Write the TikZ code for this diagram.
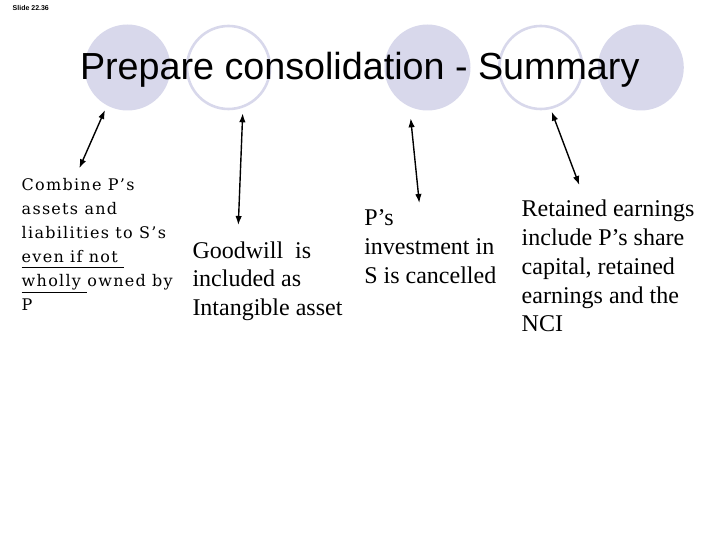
\documentclass[tikz,border=0pt]{standalone}
\usepackage{fontspec}
\setmainfont{Liberation Serif}
\newfontfamily\titlefont{Liberation Sans}
\newfontfamily\notefont[LetterSpace=8]{DejaVu Serif}
\usetikzlibrary{arrows.meta}
\definecolor{lilac}{RGB}{216,216,235}
\newcommand{\ulbar}[2]{\setbox0\hbox{#2}\rlap{\rule[#1]{\wd0}{0.8pt}}\box0\relax}
\begin{document}
\begin{tikzpicture}[x=1pt,y=-1pt,
    every node/.style={inner sep=0pt,outer sep=0pt},
    bubble/.style={circle,minimum size=86pt},
    bigtext/.style={anchor=north west,align=left,font=\fontsize{24}{28.7}\selectfont},
    link/.style={{Latex[length=9pt,width=6.5pt]}-{Latex[length=9pt,width=6.5pt]},line width=1.4pt}]
  \useasboundingbox (0,0) rectangle (720,540);
  % circles behind the title
  \node[bubble,fill=lilac] (c1) at (127.5,67.5) {};
  \node[bubble,draw=lilac,line width=2.6pt,minimum size=83pt] (c2) at (228.5,67.5) {};
  \node[bubble,fill=lilac] (c3) at (427.5,67.5) {};
  \node[bubble,draw=lilac,line width=2.6pt,minimum size=83pt] (c4) at (540.8,67.5) {};
  \node[bubble,fill=lilac] (c5) at (640.8,67.5) {};
  \node[anchor=base west,font=\fontsize{7}{8}\titlefont\bfseries] (slide) at (12.7,10.5) {Slide 22.36};
  \node[anchor=base west,font=\fontsize{37.7}{40}\titlefont] (title) at (80,80) {Prepare consolidation - Summary};
  % texts
  \node[anchor=north west,align=left,font=\fontsize{16}{24}\notefont] (combine) at (21.7,178.6)
    {Combine P’s\\assets and\\liabilities to S’s\\\ulbar{-5pt}{even if not\ }\\\ulbar{-6.5pt}{wholly\ }owned by\\P};
  \node[bigtext] (goodwill) at (192.5,241.6) {Goodwill\ \ is\\included as\\Intangible asset};
  \node[bigtext] (invest) at (364.3,209.8) {P’s\\investment in\\S is cancelled};
  \node[bigtext] (retained) at (521.7,200.3) {Retained earnings\\include P’s share\\capital, retained\\earnings and the\\NCI};
  % arrows
  \coordinate (t1) at (105,110);     \coordinate (b1) at (79.3,168.3);
  \coordinate (t2) at (242.7,113.3); \coordinate (b2) at (238.3,225);
  \coordinate (t3) at (410.7,118.3); \coordinate (b3) at (419.3,203);
  \coordinate (t4) at (551.7,111.7); \coordinate (b4) at (579.3,185);
  \draw[link] (t1) -- (b1);
  \draw[link] (t2) -- (b2);
  \draw[link] (t3) -- (b3);
  \draw[link] (t4) -- (b4);
\end{tikzpicture}
\end{document}
